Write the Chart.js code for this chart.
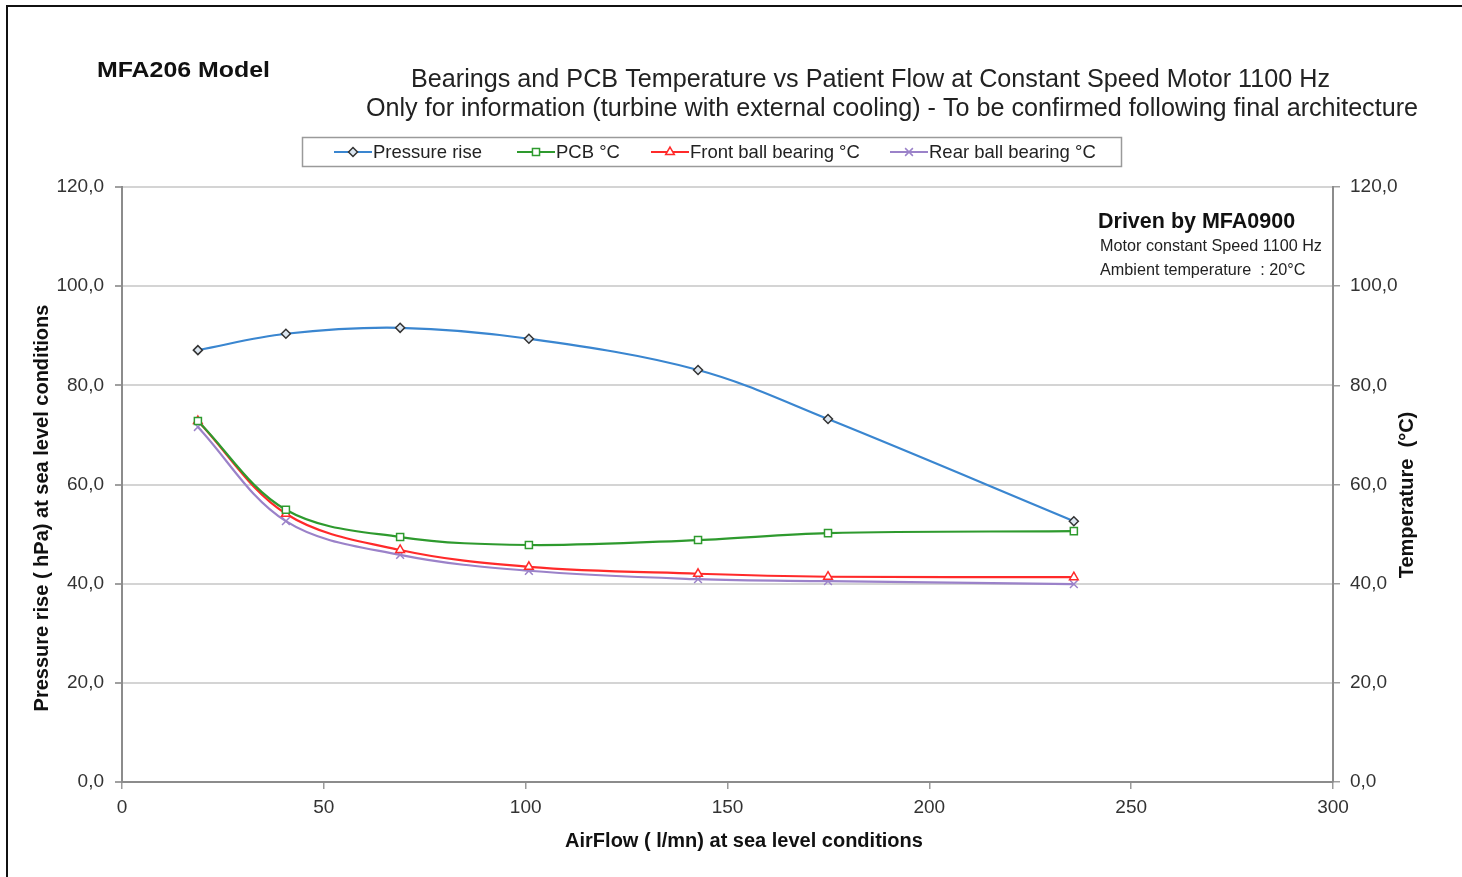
<!DOCTYPE html>
<html>
<head>
<meta charset="utf-8">
<script src="https://cdn.jsdelivr.net/npm/chart.js@4/dist/chart.umd.min.js"></script>
<style>
  html, body { margin: 0; padding: 0; background: #fff; }
  #wrap { position: relative; width: 1462px; height: 877px; overflow: hidden; }
  #frame { position: absolute; left: 6px; top: 5px; width: 2000px; height: 2000px;
           border-left: 2px solid #111; border-top: 2px solid #111; }
  canvas { position: absolute; left: 0; top: 0; }
</style>
</head>
<body>
<div id="wrap">
  <div id="frame"></div>
  <canvas id="c" width="1462" height="877"></canvas>
</div>
<script>
// ---- data ----
const airflow = [18.8, 40.6, 68.9, 100.8, 142.7, 174.9, 235.8];
const pressureRise = [87.1, 90.4, 91.6, 89.4, 83.1, 73.2, 52.6];
const pcbTemp = [72.8, 54.9, 49.4, 47.8, 48.8, 50.2, 50.6];
const frontBearing = [72.8, 54.1, 46.8, 43.4, 42.0, 41.4, 41.3];
const rearBearing = [71.6, 52.6, 45.8, 42.6, 40.9, 40.5, 39.9];
const seriesNames = ['Pressure rise', 'PCB °C', 'Front ball bearing °C', 'Rear ball bearing °C'];
const xTicks = [0, 50, 100, 150, 200, 250, 300];
const yTicks = [0, 20, 40, 60, 80, 100, 120];

const FONT = "'Liberation Sans', Arial, sans-serif";
const colors = ['#3a86d0', '#2e9a2e', '#ff2a2a', '#9b82c9'];

function pts(ys) { return airflow.map((x, i) => ({ x: x, y: ys[i] })); }
function fmt(v) { return Number(v).toFixed(1).replace('.', ','); }

const styles = [
  { pointStyle: 'rectRot', radius: 4.5, bg: '#dce6f0', border: '#333' },
  { pointStyle: 'rect', radius: 5, bg: '#ffffff', border: colors[1] },
  { pointStyle: 'triangle', radius: 5, bg: '#ffffff', border: colors[2] },
  { pointStyle: 'crossRot', radius: 5.5, bg: colors[3], border: colors[3] }
];
const allY = [pressureRise, pcbTemp, frontBearing, rearBearing];

const datasets = allY.map((ys, i) => ({
  label: seriesNames[i],
  data: pts(ys),
  yAxisID: i === 0 ? 'y' : 'y2',
  borderColor: colors[i],
  borderWidth: 2.2,
  tension: 0.35,
  pointStyle: styles[i].pointStyle,
  pointRadius: styles[i].radius,
  pointBackgroundColor: styles[i].bg,
  pointBorderColor: styles[i].border,
  pointBorderWidth: 1.5,
  fill: false
}));

function drawMarker(ctx, i, x, y) {
  Chart.helpers.drawPoint(ctx, {
    pointStyle: styles[i].pointStyle,
    radius: styles[i].radius,
    borderWidth: 1.5
  }, x, y);
}

// draw text stretched horizontally to a target width (left-aligned at x)
function fitText(ctx, text, x, y, width) {
  const w = ctx.measureText(text).width;
  ctx.save();
  ctx.translate(x, y);
  ctx.scale(width / w, 1);
  ctx.textAlign = 'left';
  ctx.fillText(text, 0, 0);
  ctx.restore();
}

const decor = {
  id: 'decor',
  afterDraw(chart) {
    const ctx = chart.ctx;
    ctx.save();
    ctx.fillStyle = '#111';
    ctx.textBaseline = 'middle';
    // model label
    ctx.font = 'bold 22px ' + FONT;
    fitText(ctx, 'MFA206 Model', 97, 71, 173);
    // title
    ctx.fillStyle = '#222';
    ctx.font = '25px ' + FONT;
    fitText(ctx, 'Bearings and PCB Temperature vs Patient Flow at Constant Speed Motor 1100 Hz', 411, 80, 919);
    fitText(ctx, 'Only for information (turbine with external cooling) - To be confirmed following final architecture', 366, 109, 1052);
    // legend box
    ctx.strokeStyle = '#9a9a9a';
    ctx.lineWidth = 1.5;
    ctx.strokeRect(302.5, 137.5, 819, 29);
    const legX = [334, 517, 651, 890];
    ctx.font = '18.5px ' + FONT;
    ctx.textAlign = 'left';
    for (let i = 0; i < 4; i++) {
      const y = 152;
      ctx.strokeStyle = colors[i];
      ctx.lineWidth = 2;
      ctx.beginPath();
      ctx.moveTo(legX[i], y);
      ctx.lineTo(legX[i] + 38, y);
      ctx.stroke();
      ctx.fillStyle = styles[i].bg;
      ctx.strokeStyle = styles[i].border;
      ctx.lineWidth = 1.5;
      drawMarker(ctx, i, legX[i] + 19, y);
      ctx.fillStyle = '#222';
      ctx.fillText(seriesNames[i], legX[i] + 39, y + 1);
    }
    // annotation
    ctx.fillStyle = '#111';
    ctx.font = 'bold 21.5px ' + FONT;
    ctx.fillText('Driven by MFA0900', 1098, 222);
    ctx.font = '16.2px ' + FONT;
    ctx.fillStyle = '#222';
    ctx.fillText('Motor constant Speed 1100 Hz', 1100, 247);
    ctx.fillText('Ambient temperature  : 20°C', 1100, 271);
    // axis titles
    ctx.fillStyle = '#111';
    ctx.font = 'bold 20px ' + FONT;
    ctx.textAlign = 'center';
    ctx.fillText('AirFlow ( l/mn) at sea level conditions', 744, 841);
    ctx.save();
    ctx.translate(42, 508);
    ctx.rotate(-Math.PI / 2);
    ctx.fillText('Pressure rise ( hPa) at sea level conditions', 0, 0);
    ctx.restore();
    ctx.save();
    ctx.translate(1407, 495);
    ctx.rotate(-Math.PI / 2);
    ctx.fillText('Temperature  (°C)', 0, 0);
    ctx.restore();
    ctx.restore();
  }
};

const tickFont = { family: FONT, size: 19 };

new Chart(document.getElementById('c'), {
  type: 'line',
  data: { datasets: datasets },
  options: {
    responsive: false,
    devicePixelRatio: 1,
    animation: false,
    layout: { padding: { top: 187, left: 0, right: 0, bottom: 0 } },
    plugins: { legend: { display: false }, title: { display: false }, tooltip: { enabled: false } },
    scales: {
      x: {
        type: 'linear', position: 'bottom', min: 0, max: 300,
        afterBuildTicks: (s) => { s.ticks = xTicks.map(v => ({ value: v })); },
        afterFit: (s) => { s.height = 95; },
        ticks: { font: tickFont, color: '#333', padding: 7, maxRotation: 0 },
        grid: { drawOnChartArea: false, drawTicks: true, tickLength: 7, color: '#9a9a9a', lineWidth: 1.5 },
        border: { color: '#8c8c8c', width: 2 }
      },
      y: {
        type: 'linear', position: 'left', min: 0, max: 120,
        afterBuildTicks: (s) => { s.ticks = yTicks.map(v => ({ value: v })); },
        afterFit: (s) => { s.width = 122; },
        ticks: { font: tickFont, color: '#333', padding: 11, callback: fmt },
        grid: { color: '#d4d4d4', lineWidth: 2, tickLength: 7, tickColor: '#a0a0a0' },
        border: { color: '#8c8c8c', width: 2 }
      },
      y2: {
        type: 'linear', position: 'right', min: 0, max: 120,
        afterBuildTicks: (s) => { s.ticks = yTicks.map(v => ({ value: v })); },
        afterFit: (s) => { s.width = 129; },
        ticks: { font: tickFont, color: '#333', padding: 10, callback: fmt },
        grid: { drawOnChartArea: false, tickLength: 7, color: '#a0a0a0', lineWidth: 1.5 },
        border: { color: '#8c8c8c', width: 2 }
      }
    }
  },
  plugins: [decor]
});
</script>
</body>
</html>
